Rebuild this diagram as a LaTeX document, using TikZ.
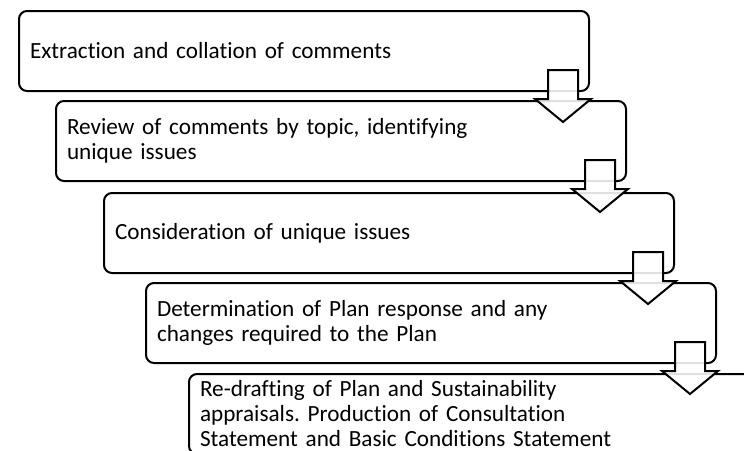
\documentclass[tikz,border=0pt]{standalone}
\usepackage{fontspec}
\setmainfont{Carlito}[Ligatures=NoCommon]
\usetikzlibrary{calc}

\tikzset{
  stage/.style={draw, line width=1pt, rounded corners=4pt, anchor=north west,
    minimum width=285pt, minimum height=40pt, text width=274pt,
    inner xsep=5.5pt, inner ysep=0pt, align=left,
    font=\fontsize{11.6}{12.5}\selectfont\frenchspacing},
  blockarrow/.style={draw, line width=1pt, fill=white, fill opacity=0.88, line join=miter}
}

\begin{document}
\begin{tikzpicture}[x=0.5pt,y=-0.5pt]
    \clip (0,0) rectangle (744,450);

    \node[stage] at (18,10) (s1) {Extraction and collation of comments};
    \node[stage] at (55,100) (s2) {Review of comments by topic, identifying\\unique issues};
    \node[stage] at (103,192) (s3) {Consideration of unique issues};
    \node[stage] at (145,282) (s4) {Determination of Plan response and any\\changes required to the Plan};
    \node[stage] at (188,373) (s5) {Re-drafting of Plan and Sustainability\\appraisals. Production of Consultation\\Statement and Basic Conditions Statement};

    % block arrows hanging off each stage
    \foreach \i in {1,2,3,4} {
      \draw[blockarrow] ($(s\i.south east)+(-42,-22)$) -- ++(30,0) -- ++(0,29)
        -- ++(13,0) -- ++(-28,23) -- ++(-28,-23) -- ++(13,0) -- cycle;
    }
\end{tikzpicture}
\end{document}
